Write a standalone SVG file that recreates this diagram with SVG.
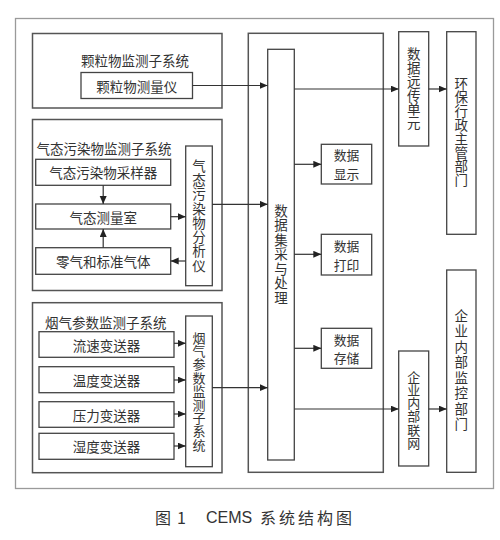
<svg xmlns="http://www.w3.org/2000/svg" width="500" height="540" viewBox="0 0 500 540">
<style>
.frame{fill:none;stroke:#9a9a9a;stroke-width:1.3}
.sub{fill:#fff;stroke:#555;stroke-width:1.5}
.box{fill:#fff;stroke:#444;stroke-width:1.3}
.t{font-family:"Noto Sans CJK SC","Noto Sans",sans-serif;font-size:13.5px;fill:#333;text-anchor:middle;dominant-baseline:central}
.t2{font-family:"Noto Sans CJK SC","Noto Sans",sans-serif;font-size:12.8px;fill:#333;text-anchor:middle;dominant-baseline:central}
.ts{font-family:"Noto Sans CJK SC","Noto Sans",sans-serif;font-size:13.5px;fill:#333;text-anchor:start;dominant-baseline:central}
.v{font-family:"Noto Sans CJK SC","Noto Sans",sans-serif;font-size:13.5px;fill:#333;text-anchor:middle;writing-mode:vertical-rl}
.c line{stroke:#333;stroke-width:1.2;fill:none}
.cap{font-family:"Noto Sans CJK SC","Liberation Sans",sans-serif;font-size:16px;fill:#333;dominant-baseline:central}
</style>
<defs>
<marker id="ar" markerUnits="userSpaceOnUse" markerWidth="9" markerHeight="8" refX="8" refY="3.5" orient="auto">
<path d="M0,0 L8,3.5 L0,7 z" fill="#222"/>
</marker>
</defs>
<rect width="500" height="540" fill="#fff"/>
<rect class="frame" x="15.5" y="18.5" width="478" height="470"/>

<g id="particle-subsystem">
<rect class="sub" x="32.5" y="33.5" width="189.5" height="74.5"/>
<text class="t" x="135" y="60">颗粒物监测子系统</text>
</g>
<g id="particle-meter">
<rect class="box" x="81" y="72.5" width="111.5" height="26"/>
<text class="t" x="136.7" y="85.7">颗粒物测量仪</text>
</g>

<g id="gas-subsystem">
<rect class="sub" x="32.5" y="119.5" width="189.5" height="171"/>
<text class="ts" x="36.5" y="148">气态污染物监测子系统</text>
</g>
<g id="gas-sampler">
<rect class="box" x="35.7" y="159.3" width="135" height="26"/>
<text class="t" x="103.2" y="172.3">气态污染物采样器</text>
</g>
<g id="gas-chamber">
<rect class="box" x="35.7" y="204" width="135" height="25"/>
<text class="t" x="103.2" y="216.5">气态测量室</text>
</g>
<g id="zero-gas">
<rect class="box" x="35.7" y="247.7" width="135" height="26.6"/>
<text class="t" x="103.2" y="261">零气和标准气体</text>
</g>
<g id="gas-analyzer">
<rect class="box" x="185.7" y="146" width="26.6" height="139.7"/>
<text class="v" x="199" y="216" letter-spacing="0.8">气态污染物分析仪</text>
</g>

<g id="flue-subsystem">
<rect class="sub" x="32.5" y="302.7" width="189.5" height="170"/>
<text class="ts" x="45" y="321.7">烟气参数监测子系统</text>
</g>
<g id="flow-tx">
<rect class="box" x="39" y="331.7" width="135" height="25.6"/>
<text class="t" x="106.5" y="344.5">流速变送器</text>
</g>
<g id="temp-tx">
<rect class="box" x="39" y="366.7" width="135" height="26"/>
<text class="t" x="106.5" y="379.7">温度变送器</text>
</g>
<g id="press-tx">
<rect class="box" x="39" y="401.7" width="135" height="25.6"/>
<text class="t" x="106.5" y="414.5">压力变送器</text>
</g>
<g id="hum-tx">
<rect class="box" x="39" y="433.3" width="135" height="26"/>
<text class="t" x="106.5" y="446.3">湿度变送器</text>
</g>
<g id="flue-unit">
<rect class="box" x="185.7" y="316" width="26.6" height="150.7"/>
<text class="v" x="199" y="391.5" style="font-size:13px" letter-spacing="0.4">烟气参数监测子系统</text>
</g>

<g id="data-system">
<rect class="sub" x="248.3" y="33.3" width="135" height="439"/>
</g>
<g id="data-processing">
<rect class="box" x="267.7" y="49.3" width="26.6" height="410.7"/>
<text class="v" x="281" y="254.5" letter-spacing="1">数据集采与处理</text>
</g>
<g id="data-display">
<rect class="box" x="321.3" y="144.3" width="50.4" height="39.7"/>
<text class="t2" x="346.5" y="154.9">数据</text>
<text class="t2" x="346.5" y="173.5">显示</text>
</g>
<g id="data-print">
<rect class="box" x="321.3" y="234.3" width="50.4" height="40.7"/>
<text class="t2" x="346.5" y="245.4">数据</text>
<text class="t2" x="346.5" y="264">打印</text>
</g>
<g id="data-storage">
<rect class="box" x="321.3" y="328.3" width="50.4" height="40"/>
<text class="t2" x="346.5" y="339">数据</text>
<text class="t2" x="346.5" y="357.6">存储</text>
</g>

<g id="remote-unit">
<rect class="box" x="398.7" y="31.7" width="30" height="114.3"/>
<text class="v" x="413.7" y="88.8" letter-spacing="0.3">数据远传单元</text>
</g>
<g id="epa-dept">
<rect class="box" x="446.7" y="31.7" width="29.3" height="202.6"/>
<text class="v" x="461.3" y="132" letter-spacing="0.3">环保行政主管部门</text>
</g>
<g id="intranet">
<rect class="box" x="398.7" y="351" width="30" height="115"/>
<text class="v" x="413.7" y="410" style="font-size:13px" letter-spacing="0.3">企业内部联网</text>
</g>
<g id="enterprise-dept">
<rect class="box" x="446.7" y="270" width="29.3" height="202.3"/>
<text class="v" x="461.3" y="371" letter-spacing="2">企业内部监控部门</text>
</g>

<g id="connectors" class="c">
<line x1="103.2" y1="185.3" x2="103.2" y2="204" marker-end="url(#ar)"/>
<line x1="103.2" y1="247.7" x2="103.2" y2="229" marker-end="url(#ar)"/>
<line x1="170.7" y1="216.7" x2="185.7" y2="216.7" marker-end="url(#ar)"/>
<line x1="185.7" y1="261" x2="170.7" y2="261" marker-end="url(#ar)"/>
<line x1="174" y1="343.3" x2="185.7" y2="343.3" marker-end="url(#ar)"/>
<line x1="174" y1="380" x2="185.7" y2="380" marker-end="url(#ar)"/>
<line x1="174" y1="414" x2="185.7" y2="414" marker-end="url(#ar)"/>
<line x1="174" y1="446" x2="185.7" y2="446" marker-end="url(#ar)"/>
<line x1="192.5" y1="85.5" x2="267.7" y2="85.5" marker-end="url(#ar)"/>
<line x1="212.3" y1="204.3" x2="267.7" y2="204.3" marker-end="url(#ar)"/>
<line x1="212.3" y1="387.7" x2="267.7" y2="387.7" marker-end="url(#ar)"/>
<line x1="294.3" y1="164.3" x2="321.3" y2="164.3" marker-end="url(#ar)"/>
<line x1="294.3" y1="254.3" x2="321.3" y2="254.3" marker-end="url(#ar)"/>
<line x1="294.3" y1="348.3" x2="321.3" y2="348.3" marker-end="url(#ar)"/>
<line x1="294.3" y1="89" x2="398.7" y2="89" marker-end="url(#ar)"/>
<line x1="428.7" y1="89" x2="446.7" y2="89" marker-end="url(#ar)"/>
<line x1="294.3" y1="409" x2="398.7" y2="409" marker-end="url(#ar)"/>
<line x1="428.7" y1="409" x2="446.7" y2="409" marker-end="url(#ar)"/>
</g>

<text class="cap" y="516.7"><tspan x="155">图</tspan><tspan x="177">1</tspan><tspan x="206" font-family="Liberation Sans, sans-serif">CEMS</tspan><tspan x="260" letter-spacing="3">系统结构图</tspan></text>
</svg>
